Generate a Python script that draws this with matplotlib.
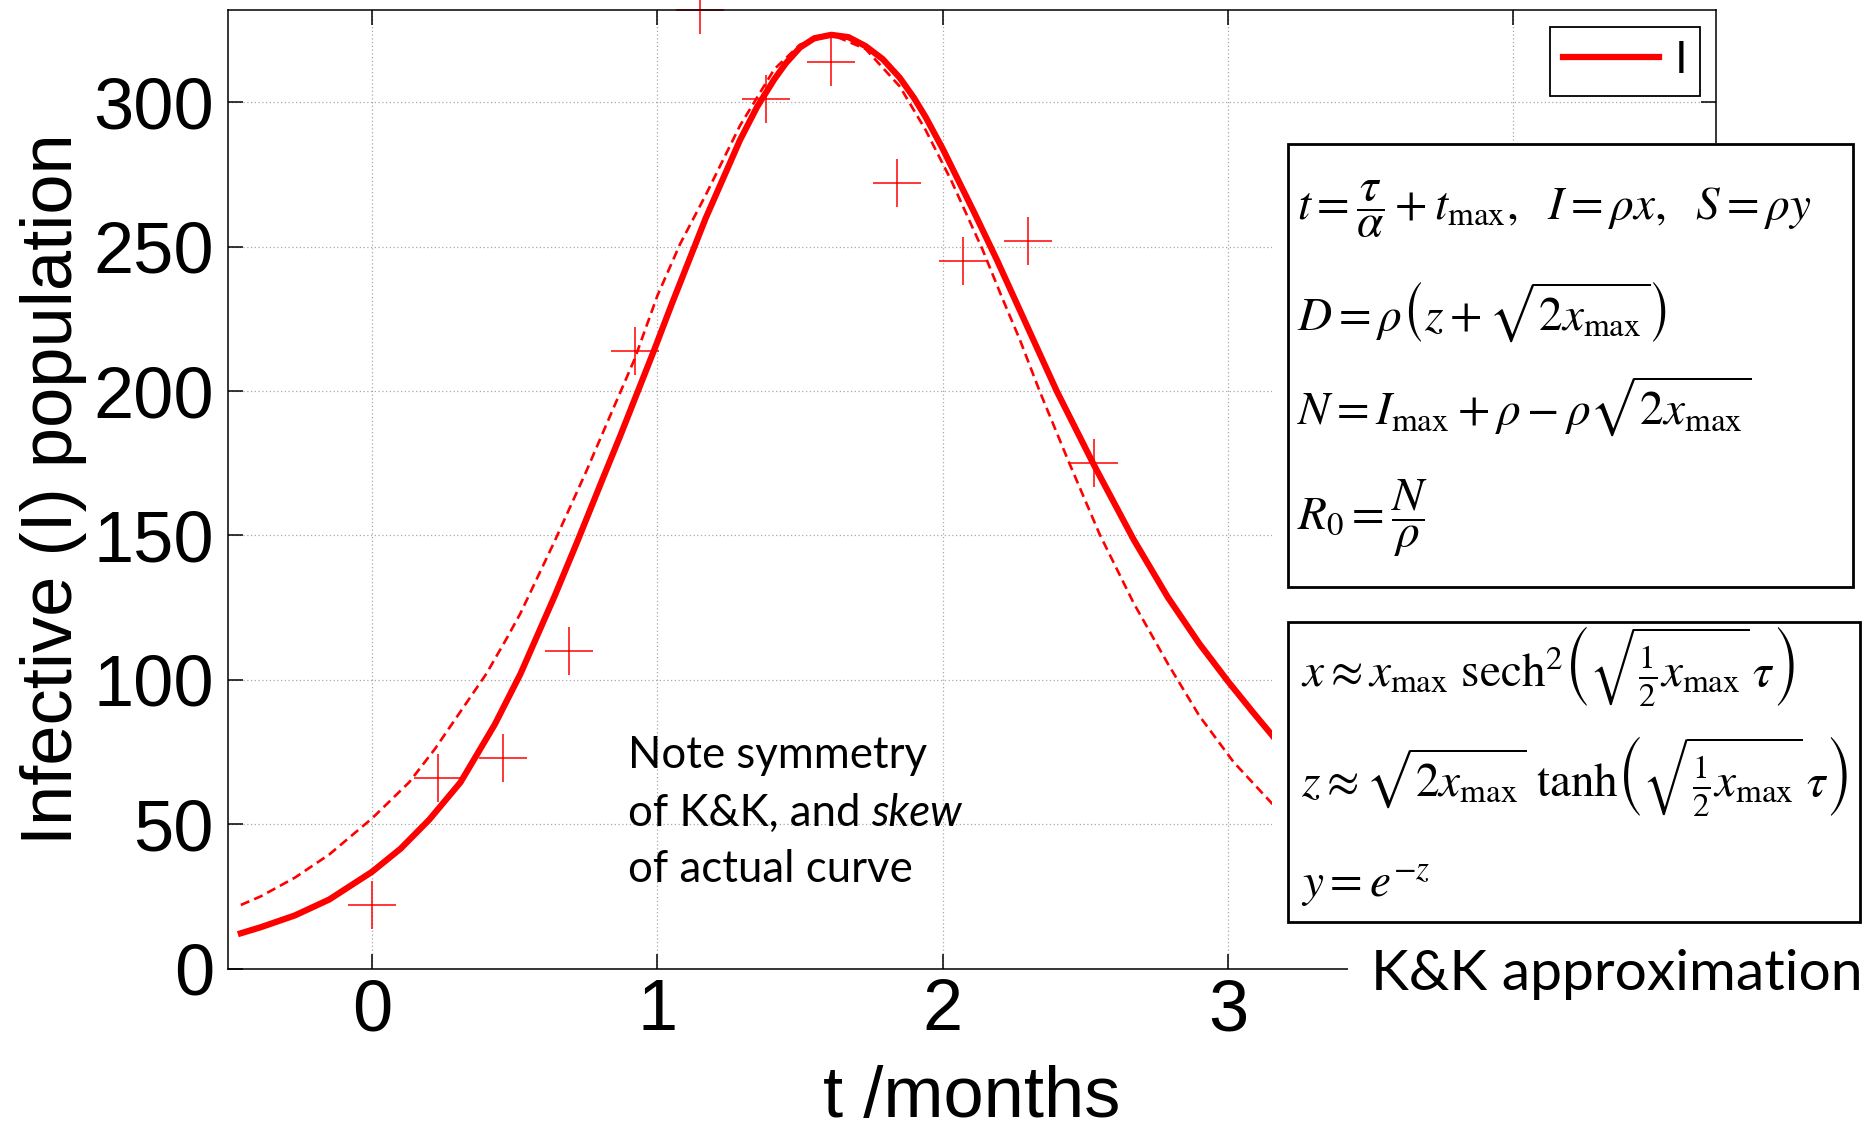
import matplotlib
matplotlib.use('Agg')
import matplotlib.pyplot as plt
import matplotlib.transforms as mtransforms
from matplotlib.patches import Rectangle

W, H = 1873, 1121

# weekly counts of infectives
t_data = [0, 0.23, 0.46, 0.69, 0.92, 1.15, 1.38, 1.61, 1.84, 2.07, 2.30, 2.53]
I_data = [22, 66, 73, 110, 214, 332, 301, 314, 272, 245, 252, 175]

# fitted SIR curve (solid)
t_fit = [-0.46, -0.39, -0.27, -0.15, 0.00, 0.10, 0.20, 0.31, 0.43, 0.52,
         0.64, 0.72, 0.81, 0.87, 0.93, 0.99, 1.05, 1.17, 1.29, 1.35,
         1.41, 1.45, 1.50, 1.55, 1.61, 1.67, 1.73, 1.79, 1.85, 1.90,
         1.94, 2.00, 2.11, 2.19, 2.25, 2.31, 2.40, 2.53, 2.67, 2.79,
         2.90, 3.00, 3.09, 3.17]
I_fit = [12.2, 14.3, 18.4, 23.9, 33.5, 41.5, 51.5, 64.5, 84.5, 102.0,
         129.0, 148.0, 170.0, 184.5, 199.5, 214.5, 230.0, 260.0, 287.0, 298.5,
         308.0, 313.5, 319.0, 322.2, 323.4, 322.6, 319.5, 315.0, 308.5, 301.5,
         295.0, 284.0, 262.0, 245.5, 232.5, 219.5, 200.0, 174.5, 148.5, 128.5,
         112.5, 99.5, 88.5, 79.0]

# K&K approximation (dashed)
t_kk = [-0.46, -0.39, -0.27, -0.15, 0.00, 0.13, 0.22, 0.31, 0.40, 0.47,
        0.52, 0.64, 0.75, 0.85, 0.92, 1.00, 1.08, 1.17, 1.29, 1.41,
        1.50, 1.61, 1.73, 1.85, 1.94, 2.03, 2.14, 2.21, 2.27, 2.34,
        2.44, 2.55, 2.67, 2.79, 2.90, 3.02, 3.17]
I_kk = [22.0, 25.0, 31.5, 39.5, 52.0, 64.5, 76.0, 89.0, 102.0, 114.0,
        123.0, 148.0, 172.0, 195.0, 211.0, 233.0, 251.0, 268.0, 292.0, 311.5,
        320.0, 323.5, 318.5, 305.5, 290.5, 273.0, 249.0, 232.0, 218.0, 200.0,
        176.0, 150.5, 126.5, 105.5, 87.5, 71.5, 55.5]

eqs_top = [
    r'$t=\dfrac{\tau}{\alpha}+t_{\mathrm{max}},\ \ I=\rho x,\ \ S=\rho y$',
    r'$D=\rho\left(z+\sqrt{2x_{\mathrm{max}}}\right)$',
    r'$N=I_{\mathrm{max}}+\rho-\rho\sqrt{2x_{\mathrm{max}}}$',
    r'$R_0=\dfrac{N}{\rho}$',
]
eqs_bottom = [
    r'$x\approx x_{\mathrm{max}}\ \mathrm{sech}^2\left(\sqrt{\frac{1}{2}x_{\mathrm{max}}}\,\tau\right)$',
    r'$z\approx\sqrt{2x_{\mathrm{max}}}\ \mathrm{tanh}\left(\sqrt{\frac{1}{2}x_{\mathrm{max}}}\,\tau\right)$',
    r'$y=e^{-z}$',
]

plt.rcParams['font.family'] = 'Liberation Sans'

fig = plt.figure(figsize=(W / 100, H / 100), dpi=100)
# pixel coordinates measured from the top-left corner
px = mtransforms.Affine2D().scale(1 / W, -1 / H).translate(0, 1) + fig.transFigure

ax = fig.add_axes([228 / W, 1 - 968.5 / H, (1715.7 - 228) / W, (968.5 - 10) / H])
ax.plot(t_kk, I_kk, color='red', lw=1.9, dashes=(3.5, 2))
ax.plot(t_fit, I_fit, color='red', lw=4.5, label='I')
ax.plot(t_data, I_data, '+', color='red', ms=34, mew=1.1, clip_on=False)

ax.set_xlim(-0.505, 4.71)
ax.set_ylim(0, 332)
ax.set_xticks([0, 1, 2, 3, 4], ['0', '1', '2', '3', ''])
ax.set_yticks(range(0, 301, 50))
ax.grid(True, linestyle=(0, (1, 2)), color='#a8a8a8', lw=0.9)
ax.tick_params(direction='in', length=10.8, width=1.1, top=True, right=True,
               labelsize=52)
ax.tick_params(axis='x', pad=7)
ax.tick_params(axis='y', pad=10)
for s in ax.spines.values():
    s.set_linewidth(1.1)

ax.set_xlabel('t /months', fontsize=52, va='baseline')
ax.xaxis.set_label_coords(972, 1117, transform=px)
ax.set_ylabel('Infective (I) population', fontsize=52, va='baseline')
ax.yaxis.set_label_coords(72, 489, transform=px)

leg = ax.legend(loc='upper right', bbox_to_anchor=(1700, 27), bbox_transform=px,
                fontsize=33, fancybox=False, framealpha=1, edgecolor='black',
                borderpad=0.27, handlelength=2.1, handletextpad=0.35,
                borderaxespad=0)
leg.get_frame().set_linewidth(1.3)

# white panel on the right carrying the equations
fig.add_artist(Rectangle((1272, 143), W - 1272, 955 - 143, transform=px,
                         fc='white', ec='none', zorder=2))
fig.add_artist(Rectangle((1348, 940), W - 1348, H - 940, transform=px,
                         fc='white', ec='none', zorder=2))
fig.add_artist(Rectangle((1288, 144), 1853 - 1288, 587 - 144, transform=px,
                         fc='white', ec='black', lw=2, zorder=3))
fig.add_artist(Rectangle((1288, 622), 1860 - 1288, 922 - 622, transform=px,
                         fc='white', ec='black', lw=2, zorder=3))

for eq, yb in zip(eqs_top, [220, 330, 425, 530]):
    fig.text(1297, yb, eq, transform=px, fontsize=34, math_fontfamily='stix',
             va='baseline', ha='left', zorder=5)
for eq, yb in zip(eqs_bottom, [687, 797, 897]):
    fig.text(1301, yb, eq, transform=px, fontsize=34, math_fontfamily='stix',
             va='baseline', ha='left', zorder=5)

fig.text(1371, 990, 'K&K approximation', transform=px, family='Lato',
         fontsize=41, va='baseline', zorder=5)

note_kw = dict(transform=px, family='Lato', fontsize=31.5, va='baseline', zorder=5)
fig.text(628, 768, 'Note symmetry', **note_kw)
t2 = fig.text(628, 825.7, 'of K&K, and', **note_kw)
fig.text(628, 882, 'of actual curve', **note_kw)
ax.annotate('skew', xy=(1, 0), xycoords=t2, xytext=(7.5, 0),
            textcoords='offset points', va='bottom', ha='left',
            family='Lato', style='italic', fontsize=31.5)

fig.savefig('out.png', dpi=100)
